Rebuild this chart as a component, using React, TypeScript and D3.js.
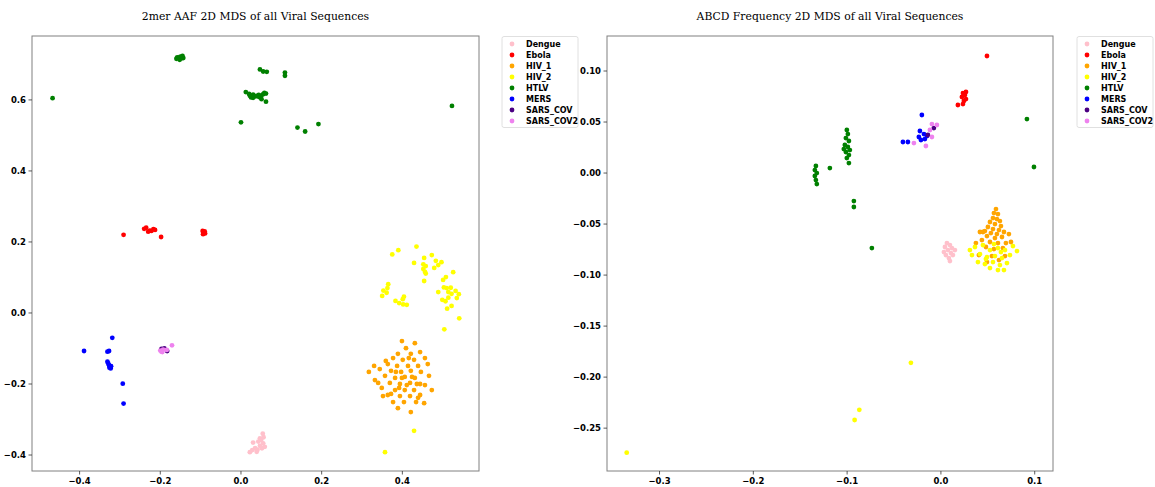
import React from "react";
import * as d3 from "d3";

type Pt = [number, number];

const classNames = ["Dengue", "Ebola", "HIV_1", "HIV_2", "HTLV", "MERS", "SARS_COV", "SARS_COV2"];
const classColors = ["pink", "red", "orange", "yellow", "green", "blue", "indigo", "violet"];

// ---------- Left panel: 2mer AAF ----------
const aafDengue: Pt[] = [[0.054,-0.340],[0.047,-0.353],[0.043,-0.362],[0.055,-0.367],[0.030,-0.365],[0.035,-0.381],[0.022,-0.392],[0.039,-0.391],[0.059,-0.377],[0.052,-0.381],[0.047,-0.374],[0.050,-0.358],[0.041,-0.385],[0.028,-0.386],[0.056,-0.350]];
const aafEbola: Pt[] = [[-0.291,0.220],[-0.240,0.237],[-0.235,0.240],[-0.226,0.232],[-0.217,0.236],[-0.213,0.234],[-0.230,0.229],[-0.222,0.231],[-0.198,0.214],[-0.092,0.227],[-0.095,0.231],[-0.089,0.224],[-0.094,0.222],[-0.090,0.230],[-0.093,0.225]];
const aafHiv1: Pt[] = [[0.399,-0.079],[0.431,-0.085],[0.409,-0.099],[0.389,-0.115],[0.421,-0.115],[0.444,-0.110],[0.377,-0.127],[0.401,-0.132],[0.429,-0.132],[0.456,-0.127],[0.364,-0.144],[0.387,-0.149],[0.414,-0.149],[0.439,-0.149],[0.463,-0.144],[0.344,-0.158],[0.372,-0.163],[0.397,-0.166],[0.421,-0.163],[0.446,-0.166],[0.317,-0.166],[0.357,-0.177],[0.382,-0.183],[0.406,-0.180],[0.431,-0.183],[0.466,-0.177],[0.332,-0.189],[0.369,-0.197],[0.394,-0.200],[0.419,-0.197],[0.444,-0.200],[0.349,-0.211],[0.382,-0.217],[0.406,-0.217],[0.429,-0.217],[0.473,-0.217],[0.364,-0.231],[0.394,-0.234],[0.419,-0.234],[0.444,-0.231],[0.456,-0.203],[0.377,-0.251],[0.404,-0.251],[0.434,-0.251],[0.389,-0.268],[0.421,-0.279],[0.340,-0.197],[0.352,-0.234],[0.424,-0.180],[0.411,-0.203],[0.439,-0.239],[0.384,-0.166],[0.359,-0.135],[0.416,-0.127],[0.392,-0.211],[0.454,-0.254],[0.372,-0.228],[0.330,-0.149],[0.436,-0.200],[0.399,-0.183]];
const aafHiv2: Pt[] = [[0.435,0.187],[0.390,0.177],[0.375,0.165],[0.473,0.163],[0.454,0.155],[0.483,0.147],[0.497,0.143],[0.429,0.141],[0.452,0.137],[0.458,0.132],[0.489,0.135],[0.452,0.124],[0.479,0.127],[0.456,0.116],[0.458,0.111],[0.526,0.115],[0.454,0.090],[0.508,0.101],[0.501,0.093],[0.365,0.081],[0.363,0.070],[0.353,0.063],[0.361,0.057],[0.350,0.048],[0.503,0.072],[0.510,0.070],[0.520,0.071],[0.514,0.059],[0.489,0.059],[0.532,0.062],[0.522,0.054],[0.540,0.053],[0.404,0.046],[0.401,0.039],[0.514,0.043],[0.535,0.042],[0.499,0.037],[0.507,0.033],[0.383,0.034],[0.392,0.028],[0.402,0.024],[0.411,0.023],[0.522,0.020],[0.511,0.012],[0.541,-0.015],[0.504,-0.046],[0.357,-0.392],[0.429,-0.332]];
const aafHtlv: Pt[] = [[-0.467,0.605],[-0.160,0.716],[-0.155,0.719],[-0.150,0.722],[-0.145,0.724],[-0.152,0.713],[-0.147,0.717],[-0.158,0.720],[-0.143,0.718],[0.047,0.686],[0.055,0.680],[0.064,0.679],[0.109,0.677],[0.109,0.668],[0.012,0.622],[0.020,0.617],[0.022,0.612],[0.030,0.615],[0.035,0.610],[0.039,0.611],[0.044,0.614],[0.050,0.612],[0.055,0.616],[0.058,0.620],[0.062,0.618],[0.062,0.595],[0.051,0.602],[0.030,0.606],[0.025,0.607],[0.045,0.608],[0.000,0.537],[0.140,0.522],[0.159,0.511],[0.192,0.532],[0.523,0.583]];
const aafMers: Pt[] = [[-0.319,-0.070],[-0.389,-0.107],[-0.331,-0.109],[-0.327,-0.107],[-0.331,-0.137],[-0.329,-0.142],[-0.327,-0.147],[-0.325,-0.151],[-0.323,-0.156],[-0.326,-0.154],[-0.322,-0.150],[-0.293,-0.199],[-0.291,-0.255]];
const aafSarsCov: Pt[] = [[-0.197,-0.101],[-0.183,-0.107],[-0.190,-0.100]];
const aafSarsCov2: Pt[] = [[-0.197,-0.109],[-0.200,-0.106],[-0.193,-0.103],[-0.184,-0.104],[-0.171,-0.091],[-0.195,-0.110]];

// ---------- Right panel: ABCD frequency ----------
const abcdDengue: Pt[] = [[0.0064,-0.0686],[0.0096,-0.0706],[0.0043,-0.0725],[0.0117,-0.0735],[0.0075,-0.0755],[0.0032,-0.0775],[0.0107,-0.0784],[0.0053,-0.0804],[0.0128,-0.0804],[0.0085,-0.0833],[0.0149,-0.0755],[0.0096,-0.0863]];
const abcdEbola: Pt[] = [[0.0235,0.0784],[0.0256,0.0765],[0.0224,0.0745],[0.0267,0.0725],[0.0245,0.0706],[0.0235,0.0676],[0.0181,0.0667],[0.0267,0.0794],[0.0491,0.1147]];
const abcdHiv1: Pt[] = [[0.0587,-0.0353],[0.0565,-0.0392],[0.0608,-0.0402],[0.0555,-0.0441],[0.0597,-0.0451],[0.0629,-0.0471],[0.0523,-0.0480],[0.0576,-0.0500],[0.0640,-0.0520],[0.0501,-0.0529],[0.0555,-0.0549],[0.0619,-0.0559],[0.0469,-0.0569],[0.0533,-0.0588],[0.0597,-0.0598],[0.0672,-0.0578],[0.0416,-0.0578],[0.0491,-0.0618],[0.0576,-0.0637],[0.0651,-0.0627],[0.0437,-0.0657],[0.0523,-0.0676],[0.0608,-0.0686],[0.0725,-0.0598],[0.0747,-0.0676],[0.0373,-0.0686],[0.0480,-0.0725],[0.0565,-0.0745],[0.0661,-0.0735],[0.0405,-0.0804],[0.0544,-0.0814],[0.0683,-0.0814],[0.0491,-0.0873],[0.0619,-0.0853],[0.0448,-0.0578],[0.0693,-0.0686]];
const abcdHiv2: Pt[] = [[0.0363,-0.0725],[0.0448,-0.0706],[0.0523,-0.0755],[0.0608,-0.0735],[0.0683,-0.0755],[0.0768,-0.0716],[0.0331,-0.0804],[0.0416,-0.0794],[0.0491,-0.0824],[0.0576,-0.0814],[0.0651,-0.0833],[0.0736,-0.0804],[0.0811,-0.0765],[0.0395,-0.0873],[0.0469,-0.0892],[0.0555,-0.0873],[0.0629,-0.0902],[0.0704,-0.0882],[0.0523,-0.0931],[0.0608,-0.0951],[0.0672,-0.0951],[0.0309,-0.0755],[0.0640,-0.0775],[0.0565,-0.0696],[0.0480,-0.0843],[-0.032,-0.186],[-0.087,-0.232],[-0.092,-0.242],[-0.335,-0.274]];
const abcdHtlv: Pt[] = [[-0.1003,0.0422],[-0.0992,0.0382],[-0.1013,0.0343],[-0.0981,0.0314],[-0.1024,0.0275],[-0.0992,0.0255],[-0.0971,0.0225],[-0.1013,0.0206],[-0.0981,0.0176],[-0.1003,0.0147],[-0.0981,0.0098],[-0.1035,0.0235],[-0.1333,0.0069],[-0.1344,0.0029],[-0.1323,0.0],[-0.1344,-0.0029],[-0.1333,-0.0069],[-0.1323,-0.0108],[-0.1184,0.0049],[-0.0928,-0.0275],[-0.0928,-0.0333],[-0.0736,-0.0735],[0.0917,0.0529],[0.0992,0.0059]];
const abcdMers: Pt[] = [[-0.0203,0.0569],[-0.0224,0.0412],[-0.0181,0.0382],[-0.0235,0.0353],[-0.0171,0.0333],[-0.0213,0.0324],[-0.0405,0.0304],[-0.0352,0.0304],[-0.0149,0.0363]];
const abcdSarsCov: Pt[] = [[-0.0139,0.0373],[-0.0075,0.0441]];
const abcdSarsCov2: Pt[] = [[-0.0096,0.0480],[-0.0043,0.0471],[-0.0117,0.0422],[-0.0288,0.0294],[-0.0160,0.0265],[-0.0096,0.0353]];

const aafXTicks = [-0.4, -0.2, 0.0, 0.2, 0.4];
const aafYTicks = [-0.4, -0.2, 0.0, 0.2, 0.4, 0.6];
const abcdXTicks = [-0.3, -0.2, -0.1, 0.0, 0.1];
const abcdYTicks = [-0.25, -0.20, -0.15, -0.10, -0.05, 0.00, 0.05, 0.10];

const aafTitle = "2mer AAF 2D MDS of all Viral Sequences";
const abcdTitle = "ABCD Frequency 2D MDS of all Viral Sequences";

const fmtMinus = (s: string) => s.replace("-", "\u2212");

interface PanelProps {
  title: string;
  series: Pt[][];
  xDomain: [number, number];
  yDomain: [number, number];
  xTicks: number[];
  yTicks: number[];
  xFmt: string;
  yFmt: string;
  left: number;
  right: number;
  legendX: number;
}

const TOP = 36;
const BOTTOM = 471;

function Panel(p: PanelProps) {
  const x = d3.scaleLinear().domain(p.xDomain).range([p.left, p.right]);
  const y = d3.scaleLinear().domain(p.yDomain).range([BOTTOM, TOP]);
  const fx = d3.format(p.xFmt);
  const fy = d3.format(p.yFmt);
  const tickFont = { fontFamily: "DejaVu Sans", fontWeight: 700, fontSize: 8.5, fill: "#000" } as const;
  const legendFont = { fontFamily: "DejaVu Sans", fontWeight: 700, fontSize: 8, fill: "#000" } as const;
  const legendH = 11;
  return (
    <g>
      <text x={(p.left + p.right) / 2} y={20} textAnchor="middle" style={{ fontFamily: "DejaVu Serif", fontSize: 10.8 }} fill="#000">{p.title}</text>
      {p.series.map((pts, si) => (
        <g key={si}>
          {pts.map((d, i) => (
            <circle key={i} cx={x(d[0])} cy={y(d[1])} r={2.4} fill={classColors[si]} />
          ))}
        </g>
      ))}
      <rect x={p.left} y={TOP} width={p.right - p.left} height={BOTTOM - TOP} fill="none" stroke="#808080" strokeWidth={1} />
      {p.xTicks.map((t) => (
        <g key={"x" + t}>
          <line x1={x(t)} x2={x(t)} y1={BOTTOM} y2={BOTTOM + 3.5} stroke="#333" strokeWidth={0.8} />
          <text x={x(t)} y={BOTTOM + 13} textAnchor="middle" style={tickFont}>{fmtMinus(fx(t))}</text>
        </g>
      ))}
      {p.yTicks.map((t) => (
        <g key={"y" + t}>
          <line x1={p.left - 3.5} x2={p.left} y1={y(t)} y2={y(t)} stroke="#333" strokeWidth={0.8} />
          <text x={p.left - 6} y={y(t) + 3} textAnchor="end" style={tickFont}>{fmtMinus(fy(t))}</text>
        </g>
      ))}
      <g>
        <rect x={p.legendX} y={36.5} width={76} height={91} fill="#fff" stroke="#e0e0e0" strokeWidth={1} rx={2} />
        {classNames.map((n, i) => (
          <g key={n}>
            <circle cx={p.legendX + 10} cy={44 + i * legendH} r={2.4} fill={classColors[i]} />
            <text x={p.legendX + 24} y={44 + i * legendH + 3} style={legendFont}>{n}</text>
          </g>
        ))}
      </g>
    </g>
  );
}

export default function App() {
  return (
    <div style={{ position: "absolute", left: 0, top: 0 }}>
      <svg width={1155} height={487} style={{ display: "block", background: "#fff" }}>
        <Panel
          title={aafTitle}
          series={[aafDengue, aafEbola, aafHiv1, aafHiv2, aafHtlv, aafMers, aafSarsCov, aafSarsCov2]}
          xDomain={[-0.518, 0.59]}
          yDomain={[-0.445, 0.780]}
          xTicks={aafXTicks}
          yTicks={aafYTicks}
          xFmt=".1f"
          yFmt=".1f"
          left={32}
          right={479}
          legendX={502}
        />
        <Panel
          title={abcdTitle}
          series={[abcdDengue, abcdEbola, abcdHiv1, abcdHiv2, abcdHtlv, abcdMers, abcdSarsCov, abcdSarsCov2]}
          xDomain={[-0.356, 0.1195]}
          yDomain={[-0.292, 0.1343]}
          xTicks={abcdXTicks}
          yTicks={abcdYTicks}
          xFmt=".1f"
          yFmt=".2f"
          left={607}
          right={1053}
          legendX={1077}
        />
      </svg>
    </div>
  );
}
